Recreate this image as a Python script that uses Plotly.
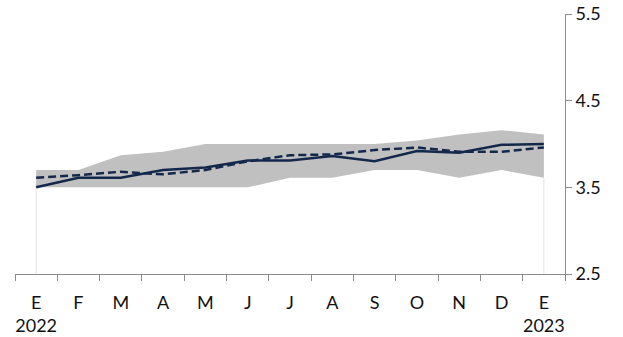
import plotly.graph_objects as go

months = ["E", "F", "M", "A", "M", "J", "J", "A", "S", "O", "N", "D", "E"]
years = {0: "2022", 12: "2023"}
band_low = [3.50, 3.50, 3.50, 3.50, 3.50, 3.50, 3.61, 3.61, 3.70, 3.70, 3.61, 3.70, 3.61]
band_high = [3.70, 3.70, 3.87, 3.91, 4.00, 4.00, 4.00, 4.00, 4.00, 4.04, 4.11, 4.16, 4.11]
solid = [3.50, 3.61, 3.61, 3.70, 3.73, 3.81, 3.81, 3.86, 3.80, 3.92, 3.90, 3.99, 4.00]
dashed = [3.61, 3.64, 3.68, 3.65, 3.70, 3.80, 3.87, 3.88, 3.93, 3.96, 3.91, 3.91, 3.96]
y_ticks = [2.5, 3.5, 4.5, 5.5]

x = list(range(len(months)))
ymin = y_ticks[0]
navy = "#13284b"
axis_col = "#8c8c8c"

fig = go.Figure()
# faint edge lines of the band's base area
for i in (x[0], x[-1]):
    fig.add_trace(go.Scatter(x=[i, i], y=[ymin, band_low[i]], mode="lines",
                             line=dict(color="#e4e4e4", width=1), hoverinfo="skip"))
fig.add_trace(go.Scatter(x=x, y=band_low, mode="lines", line=dict(width=0, color="#c0c0c0"),
                         hoverinfo="skip"))
fig.add_trace(go.Scatter(x=x, y=band_high, mode="lines", line=dict(width=0, color="#c0c0c0"),
                         fill="tonexty", fillcolor="#c0c0c0"))
fig.add_trace(go.Scatter(x=x, y=solid, mode="lines", line=dict(color=navy, width=2.5)))
fig.add_trace(go.Scatter(x=x, y=dashed, mode="lines",
                         line=dict(color=navy, width=2.5, dash="8px,4px")))

ticktext = [m + ("<br>" + years[i] if i in years else "") for i, m in enumerate(months)]

fig.update_layout(
    width=623, height=337,
    margin=dict(l=15, r=58, t=14, b=63, autoexpand=False),
    paper_bgcolor="white", plot_bgcolor="white",
    showlegend=False,
    font=dict(family="Lato", size=18, color="#111111"),
    xaxis=dict(range=[-0.5, len(months) - 0.5], tickvals=x, ticktext=ticktext,
               automargin=False,
               showgrid=False, zeroline=False, showline=True, linecolor=axis_col, linewidth=1,
               ticks="", ticklabelstandoff=12,
               minor=dict(ticks="outside", ticklen=6, tick0=0.5, dtick=1, tickcolor=axis_col,
                          showgrid=False)),
    yaxis=dict(range=[y_ticks[0], y_ticks[-1]], tickvals=y_ticks, side="right",
               automargin=False, ticklabeloverflow="allow",
               showgrid=False, zeroline=False, showline=True, linecolor=axis_col, linewidth=1,
               ticks="outside", ticklen=6, tickcolor=axis_col, tickformat=".1f"),
)

fig.write_html("out.html", config={"displayModeBar": False},
               post_script="document.body.style.margin='0px';")
